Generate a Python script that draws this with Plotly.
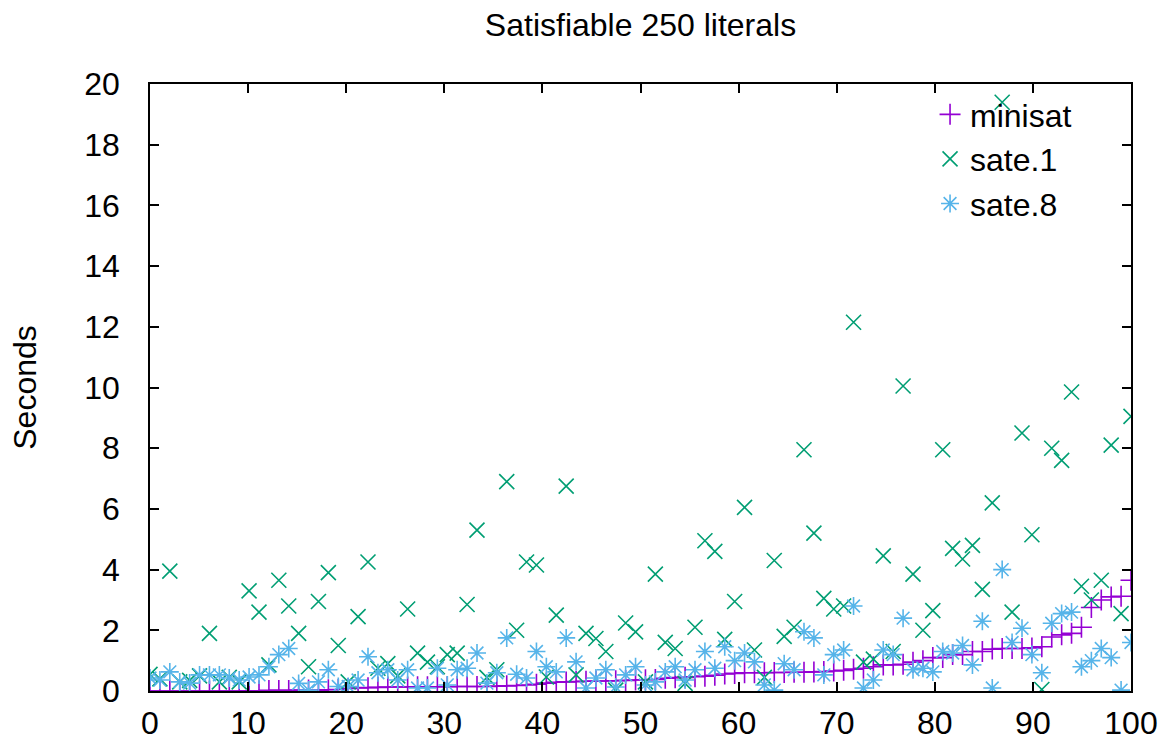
import plotly.graph_objects as go

# 100 instances spread over 0..100 on the x axis
n_instances = 100
instance_pos = [i * 100 / (n_instances - 1) for i in range(n_instances)]

minisat = [
    0, 0, 0, 0, 0, 0, 0, 0, 0, 0,
    0.01, 0.01, 0.02, 0.02, 0.02, 0.03, 0.03, 0.03, 0.04, 0.05,
    0.08, 0.10, 0.11, 0.12, 0.13, 0.13, 0.13, 0.14, 0.14, 0.14,
    0.14, 0.15, 0.15, 0.15, 0.15, 0.16, 0.17, 0.18, 0.20, 0.22,
    0.26, 0.29, 0.30, 0.31, 0.32, 0.33, 0.33, 0.34, 0.35, 0.36,
    0.37, 0.38, 0.42, 0.44, 0.45, 0.47, 0.49, 0.52, 0.56, 0.58,
    0.60, 0.60, 0.60, 0.61, 0.61, 0.62, 0.62, 0.63, 0.64, 0.66,
    0.68, 0.72, 0.75, 0.80, 0.86, 0.86, 0.88, 0.95, 1.00, 1.10,
    1.10, 1.20, 1.20, 1.30, 1.30, 1.38, 1.40, 1.40, 1.40, 1.42,
    1.46, 1.78, 1.85, 1.90, 2.10, 2.75, 3.00, 3.10, 3.12, 3.65,
]

sate_1 = [
    0.55, 0.40, 3.95, 0.30, 0.35, 0.50, 1.90, 0.30, 0.45, 0.30,
    3.30, 2.60, 0.86, 3.65, 2.80, 1.90, 0.80, 2.95, 3.90, 1.50,
    0.30, 2.45, 4.25, 0.75, 0.90, 0.50, 2.70, 1.25, 0.95, 0.80,
    1.20, 1.25, 2.85, 5.30, 0.45, 0.70, 6.90, 2.00, 4.25, 4.15,
    0.46, 2.50, 6.75, 0.53, 1.90, 1.73, 1.30, 0.03, 2.24, 1.95,
    0.30, 3.85, 1.60, 1.40, 0.25, 2.10, 4.95, 4.60, 1.70, 2.95,
    6.05, 1.35, 0.45, 4.30, 1.80, 2.10, 7.95, 5.20, 3.05, 2.70,
    2.80, 12.15, 0.95, 1.05, 4.45, 1.30, 10.05, 3.85, 2.00, 2.65,
    7.95, 4.70, 4.35, 4.80, 3.35, 6.20, 19.40, 2.60, 8.50, 5.15,
    0.05, 8.00, 7.60, 9.85, 3.45, 3.00, 3.65, 8.10, 2.55, 9.05,
]

sate_8 = [
    0.43, 0.36, 0.63, 0.30, 0.26, 0.53, 0.53, 0.53, 0.43, 0.36,
    0.46, 0.53, 0.80, 1.20, 1.40, 0.25, 0.03, 0.30, 0.70, 0.15,
    0.15, 0.36, 1.13, 0.60, 0.70, 0.36, 0.70, 0.10, 0.10, 0.75,
    0.20, 0.70, 0.75, 1.25, 0.26, 0.60, 1.75, 0.55, 0.43, 1.30,
    0.80, 0.63, 1.75, 0.96, 0.10, 0.43, 0.70, 0.13, 0.53, 0.80,
    0.20, 0.30, 0.63, 0.80, 0.36, 0.70, 1.30, 0.75, 1.46, 1.00,
    1.25, 0.96, 0.20, 0.03, 0.90, 0.70, 1.95, 1.75, 0.53, 1.20,
    1.35, 2.80, 0.10, 0.36, 1.35, 1.20, 2.40, 0.70, 0.75, 0.63,
    1.30, 1.25, 1.50, 0.86, 2.30, 0.10, 4.00, 1.60, 2.07, 1.20,
    0.60, 2.23, 2.55, 2.60, 0.80, 1.00, 1.40, 1.10, 0.03, 1.60,
]

x_ticks = [0, 10, 20, 30, 40, 50, 60, 70, 80, 90, 100]
y_ticks = [0, 2, 4, 6, 8, 10, 12, 14, 16, 18, 20]

FONT = "Liberation Sans"
FS = 32
W, H = 1176, 747

fig = go.Figure()
fig.add_trace(go.Scatter(
    x=instance_pos, y=minisat, mode="markers", name="minisat",
    legendgroup="a",
    marker=dict(symbol="cross-thin-open", size=15, color="#9400D3",
                line=dict(color="#9400D3", width=1.6)),
))
fig.add_trace(go.Scatter(
    x=instance_pos, y=sate_1, mode="markers", name="sate.1",
    legendgroup="b",
    marker=dict(symbol="x-thin-open", size=15, color="#009E73",
                line=dict(color="#009E73", width=1.6)),
))
fig.add_trace(go.Scatter(
    x=instance_pos, y=sate_8, mode="markers", name="sate.8",
    legendgroup="c",
    marker=dict(symbol="asterisk-open", size=15, color="#56B4E9",
                line=dict(color="#56B4E9", width=1.6)),
))

axis_common = dict(
    showline=True, linecolor="black", linewidth=1.5, mirror="allticks",
    ticks="inside", ticklen=9, tickwidth=1.5, tickcolor="black",
    showgrid=False, zeroline=False,
    tickfont=dict(family=FONT, size=FS, color="black"),
)

fig.update_layout(
    width=W, height=H,
    paper_bgcolor="white", plot_bgcolor="white",
    margin=dict(l=150, r=45, t=84, b=56, autoexpand=False),
    title=dict(text="Satisfiable 250 literals", x=0.5, xref="paper",
               y=1 - 25 / H, yanchor="middle",
               font=dict(family=FONT, size=FS, color="black")),
    xaxis=dict(range=[0, 100], tickvals=x_ticks, ticklabelstandoff=3,
               **axis_common),
    yaxis=dict(range=[0, 20], tickvals=y_ticks, ticklabelstandoff=22,
               title=dict(text="Seconds", standoff=38,
                          font=dict(family=FONT, size=FS, color="black")),
               **axis_common),
    showlegend=True,
    legend=dict(x=0.945, y=0.995, xanchor="right", yanchor="top",
                bgcolor="rgba(0,0,0,0)", tracegroupgap=0,
                font=dict(family=FONT, size=FS, color="black")),
)

fig.write_html(
    "out.html",
    config={"displayModeBar": False},
    post_script="document.body.style.margin='0';document.body.style.overflow='hidden';",
)
